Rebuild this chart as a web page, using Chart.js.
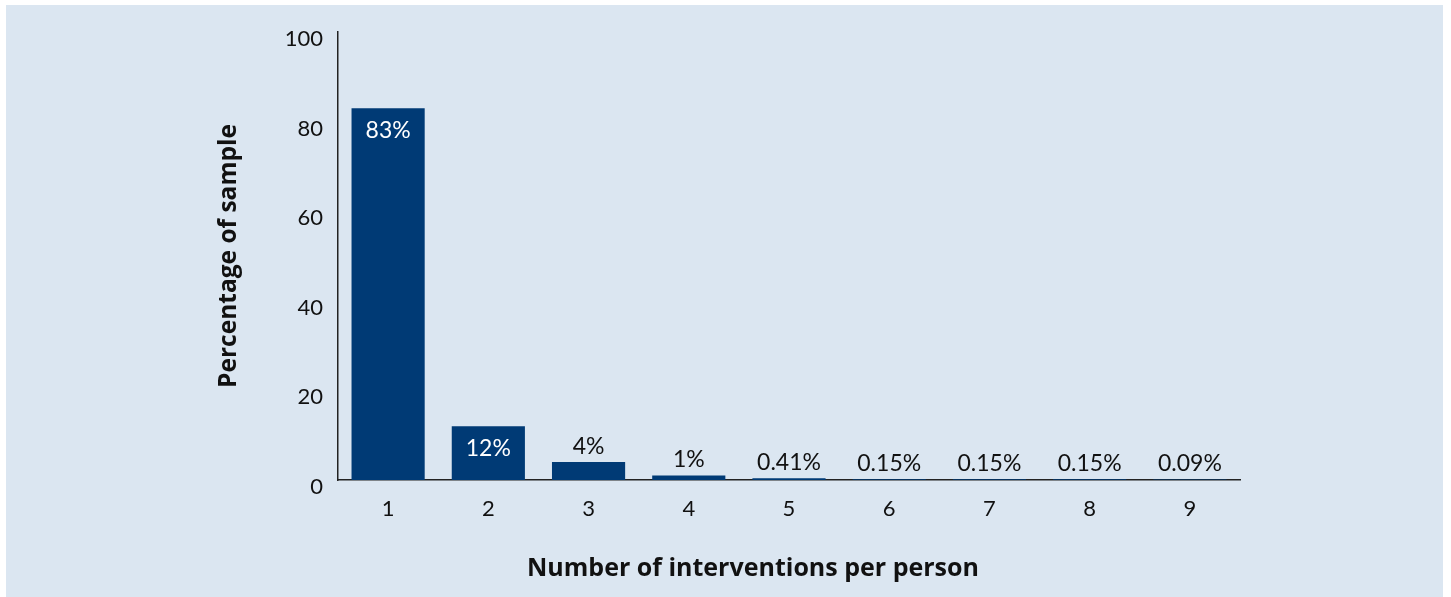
<!DOCTYPE html>
<html lang="en">
<head>
  <meta charset="UTF-8"/>
  <title>Number of interventions per person</title>
  <script src="https://cdn.jsdelivr.net/npm/chart.js"></script>
  <style>
    * { box-sizing: border-box; margin: 0; padding: 0; }
    body { background: #fff; width: 1451px; height: 597px; overflow: hidden; position: relative; }
    /* light blue panel behind the chart */
    #panel {
      position: absolute; left: 6px; top: 5px; width: 1437px; height: 592px;
      background: #dbe6f1;
    }
    #wrap { position: absolute; left: 0; top: 0; width: 1451px; height: 597px; }
    #xTitle {
      position: absolute; top: 549px; left: 453px; width: 600px; text-align: center;
      font: bold 25px 'Open Sans', sans-serif; color: #111; white-space: nowrap;
    }
  </style>
</head>
<body>
  <div id="panel"></div>
  <div id="wrap"><canvas id="chart" width="1451" height="597"></canvas></div>
  <div id="xTitle">Number of interventions per person</div>

  <script>
    // interventions per person and share of the sample (%)
    const categories = ['1', '2', '3', '4', '5', '6', '7', '8', '9'];
    const shares = [83, 12, 4, 1, 0.41, 0.15, 0.15, 0.15, 0.09];
    const shareLabels = ['83%', '12%', '4%', '1%', '0.41%', '0.15%', '0.15%', '0.15%', '0.09%'];
    const yTicks = [0, 20, 40, 60, 80, 100];

    const tickFont = { family: 'Lato', size: 22 };

    // percentage labels: white inside tall bars, dark above short ones
    const barLabels = {
      id: 'barLabels',
      afterDatasetsDraw(chart) {
        const { ctx } = chart;
        const meta = chart.getDatasetMeta(0);
        ctx.save();
        ctx.font = '23px Lato';
        ctx.textAlign = 'center';
        ctx.textBaseline = 'middle';
        meta.data.forEach((bar, i) => {
          if (shares[i] >= 10) {
            ctx.fillStyle = '#fff';
            ctx.fillText(shareLabels[i], bar.x, bar.y + 22);
          } else {
            ctx.fillStyle = '#111';
            ctx.fillText(shareLabels[i], bar.x, bar.y - 16);
          }
        });
        ctx.restore();
      }
    };

    new Chart(document.getElementById('chart'), {
      type: 'bar',
      data: {
        labels: categories,
        datasets: [{
          data: shares,
          backgroundColor: '#003a75',
          categoryPercentage: 0.73,
          barPercentage: 1
        }]
      },
      options: {
        responsive: false,
        animation: false,
        layout: { padding: { top: 32, left: 200, right: 211, bottom: 0 } },
        plugins: { legend: { display: false }, tooltip: { enabled: false } },
        scales: {
          x: {
            grid: { display: false },
            border: { display: true, color: '#222', width: 1.5 },
            ticks: { font: tickFont, color: '#111', padding: 8, maxRotation: 0 },
            afterFit(scale) { scale.height = 117; }
          },
          y: {
            min: 0,
            max: 100,
            afterBuildTicks(scale) { scale.ticks = yTicks.map(v => ({ value: v })); },
            grid: { display: false },
            border: { display: true, color: '#222', width: 1.5 },
            ticks: { font: tickFont, color: '#111', padding: 7, labelOffset: 7 },
            title: {
              display: true,
              text: 'Percentage of sample',
              font: { family: 'Open Sans', size: 24.5, weight: 'bold' },
              color: '#111',
              padding: { top: 14, bottom: 0 }
            },
            afterFit(scale) { scale.width = 138; }
          }
        }
      },
      plugins: [barLabels]
    });
  </script>
</body>
</html>
